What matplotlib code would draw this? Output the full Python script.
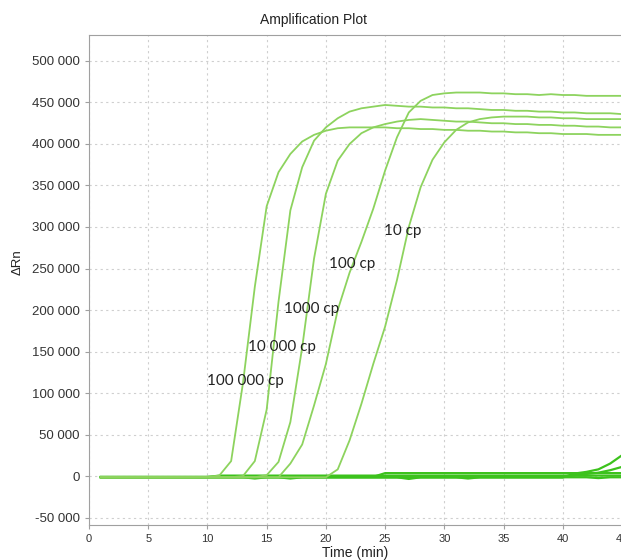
import matplotlib
matplotlib.use("Agg")
import matplotlib.pyplot as plt
from matplotlib.ticker import MultipleLocator, FuncFormatter
import numpy as np

# time axis, one reading per minute
time_min = list(range(1, 46))

# amplification curves (Delta Rn), one value per minute 1..45
rn_100000 = [-1500] * 9 + [-1000, 500, 18000, 112000, 228000, 325000, 366000, 388000,
             403000, 411000, 416000, 419000, 420000, 420000, 420000, 420000, 419000,
             419000, 418000, 418000, 417000, 417000, 416000, 416000, 415000, 415000,
             414000, 414000, 413000, 413000, 412000, 412000, 412000, 411000, 411000, 411000]
rn_10000 = [-1500] * 12 + [0, 18000, 80000, 210000, 320000, 372000, 404000, 420000,
            431000, 439000, 443000, 445000, 447000, 446000, 445000, 445000, 444000,
            444000, 443000, 443000, 442000, 441000, 441000, 440000, 440000, 439000,
            439000, 438000, 438000, 437000, 437000, 437000, 436000]
rn_1000 = [-1500] * 14 + [1000, 17000, 65000, 155000, 262000, 340000, 380000, 400000,
           413000, 420000, 424000, 427000, 429000, 430000, 429000, 428000, 427000,
           427000, 426000, 425000, 425000, 424000, 424000, 423000, 423000, 422000,
           422000, 421000, 421000, 420000, 420000]
rn_100 = [-1500] * 16 + [15000, 38000, 85000, 135000, 200000, 245000, 282000, 322000,
          368000, 408000, 438000, 452000, 459000, 461000, 462000, 462000, 462000,
          461000, 461000, 460000, 460000, 459000, 460000, 459000, 459000, 458000,
          458000, 458000, 458000]
rn_10 = [-1500] * 20 + [8000, 43000, 87000, 135000, 180000, 236000, 300000, 348000,
         381000, 402000, 417000, 426000, 430000, 432000, 433000, 433000, 433000,
         432000, 432000, 431000, 431000, 430000, 430000, 430000, 430000]

# no-template / negative wells hugging the baseline
neg_a = [-1500] * 40 + [3000, 5000, 8000, 15000, 25000]
neg_b = [-1500] * 40 + [1000, 2500, 4000, 7000, 11000]
neg_c = [-1000] * 24 + [3500] * 21
neg_d = [-1500] * 13 + [-3000, -1500, -1500, -3000] + [-1500] * 9 + [-3500] + [-1500] * 4 \
        + [-3000] + [-1500] * 10 + [-2500, -1500, -1500]
neg_e = [-1200] * 10 + [500] * 35

curves = [rn_100000, rn_10000, rn_1000, rn_100, rn_10]
negatives = [neg_a, neg_b, neg_c, neg_d, neg_e]

labels = ["100 000 cp", "10 000 cp", "1000 cp", "100 cp", "10 cp"]
label_x = [10.0, 13.4, 16.5, 20.3, 24.9]
label_y = [115000, 155000, 201000, 255000, 295000]

fig = plt.figure(figsize=(6.21, 5.6), dpi=100)
ax = fig.add_axes([89 / 621, 0.0625, 533 / 621, 0.875])

for neg in negatives:
    ax.plot(time_min, neg, color="#3cc21c", lw=1.6, zorder=2)
for rn in curves:
    ax.plot(time_min, rn, color="#8dd35e", lw=1.3, zorder=3)

for txt, tx, ty in zip(labels, label_x, label_y):
    ax.text(tx, ty, txt, fontsize=11, family="Lato", color="#222222",
            va="center", ha="left", zorder=4)

ax.set_xlim(0, 45)
ax.set_ylim(-59000, 531300)
ax.xaxis.set_major_locator(MultipleLocator(5))
ax.yaxis.set_major_locator(MultipleLocator(50000))
ax.yaxis.set_major_formatter(FuncFormatter(lambda v, p: f"{v:,.0f}".replace(",", " ")))

ax.grid(True, color="#cfcfcf", lw=0.8, linestyle=(0, (2, 3)))
ax.set_axisbelow(True)
for side in ["left", "bottom", "top"]:
    ax.spines[side].set_color("#a0a0a0")
ax.spines["right"].set_visible(False)
ax.tick_params(axis="both", colors="#a0a0a0", length=3, width=0.8)
ax.tick_params(axis="y", labelsize=9.5, labelcolor="#333333")
ax.tick_params(axis="x", labelsize=8, labelcolor="#333333")
for t in ax.get_xticklabels() + ax.get_yticklabels():
    t.set_family("Liberation Sans")

fig.text(313 / 621, 1 - 20 / 560, "Amplification Plot", ha="center", va="center",
         fontsize=10, family="Liberation Sans", color="#222222")
fig.text(355 / 621, 1 - 553 / 560, "Time (min)", ha="center", va="center",
         fontsize=10, family="Liberation Sans", color="#222222")
fig.text(18 / 621, 1 - 262 / 560, "\u0394Rn", ha="center", va="center", rotation=90,
         fontsize=9.5, family="Liberation Sans", color="#222222")

fig.savefig("out.png", dpi=100)
